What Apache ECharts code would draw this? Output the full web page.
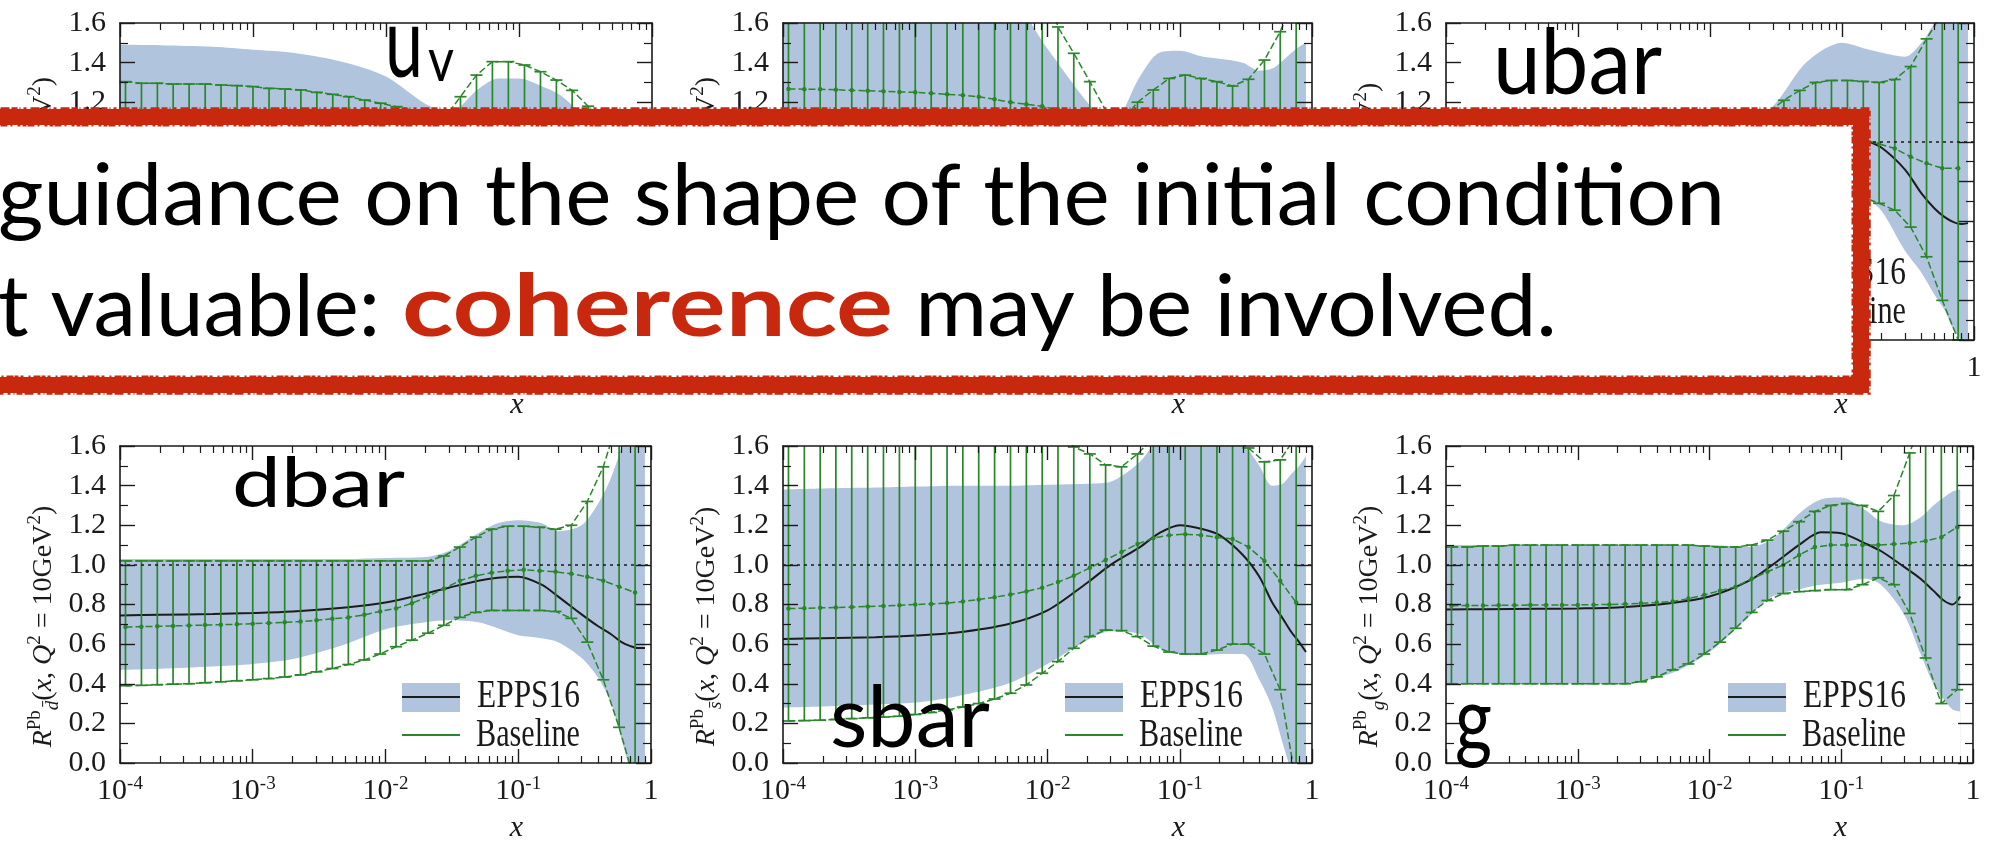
<!DOCTYPE html>
<html><head><meta charset="utf-8">
<script src="https://cdn.jsdelivr.net/npm/echarts@6/dist/echarts.min.js"></script>
<style>html,body{margin:0;padding:0;background:#fff}#c{width:1990px;height:842px}</style>
</head><body><div id="c"></div>
<script>
// ---------------- data ----------------
const xBase = [1.10e-4,1.45e-4,1.91e-4,2.51e-4,3.31e-4,4.37e-4,5.75e-4,7.59e-4,1.00e-3,1.32e-3,1.74e-3,
  2.29e-3,3.02e-3,3.98e-3,5.25e-3,6.92e-3,9.12e-3,0.0120,0.0158,0.0209,0.0275,0.0363,
  0.0479,0.0631,0.0832,0.110,0.145,0.191,0.251,0.331,0.437,0.575,0.759];
const xEpps = [1e-4,2e-4,5e-4,1e-3,2e-3,5e-3,0.01,0.02,0.03,0.05,0.07,0.1,0.15,0.2,0.3,0.4,0.5,0.6,0.7,0.8,0.9];
const xTickLabels = ['10{s|-4}','10{s|-3}','10{s|-2}','10{s|-1}','1'];
const yTickLabels = ['0.0','0.2','0.4','0.6','0.8','1.0','1.2','1.4','1.6'];
const panelNames = ['uv','dv','ubar','dbar','sbar','g'];
const yTitleSubs = ['uV','dV','ū','d̄','s̄','g'];

// u_v
const uvEppsHi  = [1.49,1.488,1.48,1.465,1.45,1.40,1.33,1.19,1.15,1.27,1.32,1.32,1.28,1.24,1.14,1.08,1.05,1.04,1.05,1.08,1.12];
const uvEppsMid = [1.02,1.02,1.02,1.02,1.02,1.03,1.04,1.06,1.07,1.09,1.1,1.1,1.08,1.05,1.0,0.95,0.9,0.87,0.86,0.87,0.9];
const uvEppsLo  = [0.55,0.56,0.57,0.6,0.65,0.72,0.8,0.9,0.95,0.95,0.92,0.9,0.88,0.86,0.84,0.8,0.75,0.7,0.67,0.65,0.65];
const uvBaseHi  = [1.304,1.296,1.296,1.292,1.292,1.292,1.287,1.284,1.279,1.27,1.267,
  1.262,1.25,1.24,1.228,1.211,1.195,1.178,1.16,1.13,1.12,1.228,
  1.337,1.405,1.405,1.388,1.354,1.312,1.26,1.18,1.1,1.03,0.98];
const uvBaseMid = [1.05,1.05,1.05,1.05,1.05,1.05,1.05,1.05,1.05,1.05,1.05,
  1.05,1.05,1.04,1.04,1.03,1.02,1.01,1.0,0.99,1.0,1.05,
  1.1,1.12,1.12,1.1,1.08,1.05,1.0,0.95,0.9,0.86,0.83];
const uvBaseLo  = [0.8,0.8,0.8,0.8,0.81,0.81,0.81,0.82,0.82,0.82,0.83,
  0.84,0.85,0.85,0.85,0.85,0.85,0.84,0.84,0.85,0.88,0.9,
  0.88,0.85,0.84,0.82,0.8,0.78,0.74,0.7,0.68,0.67,0.66];
// d_v
const dvEppsHi  = [2.0,2.0,1.98,1.95,1.88,1.75,1.47,1.2,1.08,1.33,1.45,1.46,1.43,1.42,1.4,1.36,1.37,1.41,1.45,1.48,1.5];
const dvEppsMid = [1.0,1.0,1.0,1.0,1.0,1.0,1.0,1.01,1.03,1.06,1.08,1.09,1.08,1.06,1.0,0.95,0.9,0.87,0.86,0.87,0.9];
const dvEppsLo  = [0.0,0.0,0.05,0.1,0.2,0.35,0.5,0.7,0.78,0.8,0.78,0.75,0.72,0.7,0.65,0.6,0.55,0.5,0.45,0.42,0.4];
const dvBaseHi  = [1.9,1.9,1.9,1.9,1.9,1.9,1.9,1.9,1.9,1.9,1.9,
  1.9,1.9,1.9,1.9,1.9,1.9,1.58,1.447,1.304,1.16,1.1,
  1.2,1.262,1.32,1.337,1.32,1.304,1.282,1.316,1.413,1.556,1.75];
const dvBaseMid = [1.267,1.266,1.265,1.263,1.26,1.258,1.255,1.252,1.25,1.245,1.24,
  1.235,1.228,1.215,1.2,1.19,1.18,1.16,1.14,1.12,1.1,1.06,
  1.04,1.03,1.03,1.02,1.0,0.98,0.96,0.95,0.95,0.96,0.98];
const dvBaseLo  = [0.6,0.6,0.6,0.6,0.6,0.6,0.6,0.6,0.6,0.6,0.6,
  0.6,0.61,0.62,0.63,0.65,0.67,0.7,0.72,0.74,0.75,0.75,
  0.74,0.73,0.72,0.7,0.68,0.66,0.64,0.62,0.6,0.6,0.6];
// ubar
const ubarEppsHi  = [1.1,1.1,1.1,1.1,1.1,1.1,1.1,1.12,1.18,1.38,1.46,1.5,1.47,1.45,1.43,1.5,1.6,1.7,1.85,2.0,2.1];
const ubarEppsMid = [0.97,0.97,0.97,0.97,0.97,0.975,0.98,1.0,1.02,1.05,1.065,1.06,1.01,0.97,0.86,0.74,0.665,0.62,0.595,0.585,0.59];
const ubarEppsLo  = [0.8,0.8,0.8,0.8,0.8,0.8,0.82,0.85,0.86,0.85,0.82,0.78,0.72,0.65,0.45,0.34,0.23,0.15,0.05,0.0,-0.05];
const ubarBaseHi  = [1.1,1.1,1.1,1.1,1.1,1.1,1.1,1.1,1.1,1.1,1.1,
  1.1,1.1,1.1,1.1,1.1,1.1,1.1,1.1,1.12,1.15,1.21,
  1.26,1.3,1.31,1.31,1.305,1.3,1.315,1.38,1.52,1.65,1.8];
const ubarBaseMid = [0.98,0.98,0.98,0.98,0.98,0.98,0.98,0.98,0.98,0.98,0.98,
  0.98,0.98,0.985,0.99,0.995,1.0,1.01,1.02,1.03,1.04,1.05,
  1.05,1.05,1.04,1.03,1.01,0.99,0.967,0.925,0.892,0.867,0.867];
const ubarBaseLo  = [0.8,0.8,0.8,0.8,0.8,0.8,0.8,0.8,0.8,0.8,0.8,
  0.8,0.8,0.8,0.8,0.8,0.8,0.8,0.8,0.8,0.8,0.8,
  0.79,0.78,0.77,0.75,0.72,0.69,0.655,0.57,0.42,0.2,0.0];
// dbar
const dbarEppsHi  = [1.03,1.03,1.03,1.03,1.03,1.03,1.035,1.04,1.07,1.16,1.21,1.225,1.21,1.17,1.2,1.31,1.44,1.6,1.8,1.95,2.1];
const dbarEppsMid = [0.745,0.748,0.752,0.757,0.765,0.785,0.81,0.855,0.885,0.92,0.935,0.94,0.9,0.84,0.75,0.69,0.65,0.61,0.59,0.58,0.58];
const dbarEppsLo  = [0.47,0.476,0.487,0.50,0.525,0.60,0.675,0.71,0.72,0.71,0.68,0.645,0.63,0.61,0.53,0.43,0.30,0.12,-0.05,-0.2,-0.35];
const dbarBaseHi  = [1.02,1.02,1.02,1.02,1.02,1.02,1.02,1.02,1.02,1.02,1.02,
  1.02,1.02,1.02,1.02,1.02,1.02,1.02,1.02,1.02,1.045,1.09,
  1.14,1.18,1.195,1.195,1.19,1.18,1.2,1.32,1.495,1.75,2.1];
const dbarBaseMid = [0.686,0.688,0.69,0.692,0.694,0.696,0.698,0.70,0.703,0.706,0.71,
  0.714,0.72,0.728,0.735,0.748,0.765,0.78,0.806,0.84,0.88,0.92,
  0.945,0.96,0.97,0.975,0.97,0.965,0.955,0.94,0.92,0.89,0.86];
const dbarBaseLo  = [0.39,0.392,0.395,0.398,0.40,0.405,0.41,0.415,0.42,0.426,0.434,
  0.445,0.46,0.477,0.497,0.52,0.55,0.587,0.62,0.655,0.695,0.735,
  0.76,0.77,0.77,0.77,0.77,0.765,0.73,0.61,0.42,0.18,-0.1];
// sbar
const sbarEppsHi  = [1.38,1.385,1.39,1.395,1.40,1.40,1.405,1.41,1.42,1.52,1.65,1.75,1.8,1.75,1.62,1.5,1.4,1.41,1.46,1.5,1.55];
const sbarEppsMid = [0.626,0.63,0.635,0.643,0.657,0.70,0.77,0.91,1.0,1.09,1.16,1.2,1.18,1.15,1.05,0.94,0.81,0.73,0.66,0.61,0.56];
const sbarEppsLo  = [0.28,0.285,0.295,0.305,0.335,0.40,0.50,0.62,0.665,0.65,0.58,0.55,0.545,0.55,0.55,0.42,0.28,0.1,-0.05,-0.2,-0.3];
const sbarBaseHi  = [1.8,1.8,1.8,1.8,1.8,1.8,1.8,1.8,1.8,1.8,1.8,
  1.8,1.8,1.8,1.8,1.8,1.8,1.72,1.595,1.56,1.505,1.495,
  1.56,1.64,1.72,1.78,1.78,1.72,1.64,1.59,1.52,1.53,1.65];
const sbarBaseMid = [0.78,0.781,0.783,0.785,0.787,0.79,0.793,0.796,0.80,0.803,0.807,
  0.815,0.825,0.837,0.85,0.866,0.885,0.913,0.945,0.985,1.025,1.065,
  1.105,1.135,1.15,1.155,1.15,1.14,1.13,1.09,1.02,0.92,0.81];
const sbarBaseLo  = [0.212,0.214,0.216,0.22,0.224,0.228,0.232,0.236,0.245,0.255,0.268,
  0.283,0.30,0.323,0.352,0.394,0.453,0.512,0.579,0.638,0.671,0.668,
  0.638,0.59,0.56,0.55,0.55,0.57,0.6,0.6,0.55,0.37,-0.1];
// g
const gEppsHi  = [1.1,1.1,1.1,1.1,1.1,1.1,1.1,1.09,1.13,1.27,1.33,1.34,1.28,1.22,1.2,1.24,1.3,1.34,1.37,1.38,null];
const gEppsMid = [0.775,0.776,0.778,0.78,0.785,0.806,0.84,0.92,1.0,1.11,1.165,1.16,1.11,1.07,0.99,0.93,0.87,0.82,0.8,0.84,null];
const gEppsLo  = [0.4,0.4,0.4,0.4,0.4,0.45,0.56,0.74,0.84,0.88,0.9,0.91,0.93,0.9,0.75,0.55,0.4,0.32,0.27,0.26,null];
const gBaseHi  = [1.09,1.09,1.095,1.095,1.1,1.1,1.1,1.1,1.1,1.1,1.1,
  1.1,1.1,1.1,1.1,1.1,1.095,1.09,1.09,1.1,1.125,1.17,
  1.218,1.27,1.3,1.31,1.3,1.27,1.35,1.565,1.8,2.0,2.2];
const gBaseMid = [0.794,0.795,0.795,0.796,0.796,0.797,0.797,0.798,0.798,0.799,0.80,
  0.802,0.806,0.81,0.815,0.83,0.848,0.87,0.89,0.93,0.965,1.0,
  1.05,1.09,1.1,1.1,1.1,1.1,1.105,1.11,1.12,1.14,1.19];
const gBaseLo  = [0.4,0.4,0.4,0.4,0.4,0.4,0.4,0.4,0.4,0.4,0.4,
  0.4,0.41,0.435,0.47,0.5,0.55,0.61,0.68,0.76,0.82,0.855,
  0.865,0.87,0.875,0.875,0.9,0.935,0.9,0.755,0.53,0.3,0.37];

const panels = [
  {hi:uvEppsHi, mid:uvEppsMid, lo:uvEppsLo, bHi:uvBaseHi, bMid:uvBaseMid, bLo:uvBaseLo},
  {hi:dvEppsHi, mid:dvEppsMid, lo:dvEppsLo, bHi:dvBaseHi, bMid:dvBaseMid, bLo:dvBaseLo},
  {hi:ubarEppsHi, mid:ubarEppsMid, lo:ubarEppsLo, bHi:ubarBaseHi, bMid:ubarBaseMid, bLo:ubarBaseLo},
  {hi:dbarEppsHi, mid:dbarEppsMid, lo:dbarEppsLo, bHi:dbarBaseHi, bMid:dbarBaseMid, bLo:dbarBaseLo},
  {hi:sbarEppsHi, mid:sbarEppsMid, lo:sbarEppsLo, bHi:sbarBaseHi, bMid:sbarBaseMid, bLo:sbarBaseLo},
  {hi:gEppsHi, mid:gEppsMid, lo:gEppsLo, bHi:gBaseHi, bMid:gBaseMid, bLo:gBaseLo}
];

// ---------------- layout / style ----------------
const gridPos = [
  {l:120, t:23, w:532, h:317}, {l:783, t:23, w:529, h:317}, {l:1446, t:23, w:528, h:317},
  {l:120, t:446, w:531, h:317}, {l:783, t:446, w:529, h:317}, {l:1446, t:446, w:527, h:317}
];
const BAND = '#b0c4de', GREEN = '#2a862a', BLACK = '#1c1c1c', INK = '#1a1a1a', RED = '#c8290e';
const SERIF = 'Liberation Serif';

const ctx = document.createElement('canvas').getContext('2d');
function fitText(str, x0, x1, baseline, size, opt) {
  opt = opt || {};
  const fam = opt.family || 'Lato', wt = opt.weight || 'normal', st = opt.style || 'normal';
  ctx.font = st + ' ' + wt + ' ' + size + 'px "' + fam + '"';
  const w = ctx.measureText(str).width;
  return {type:'text', x:x0, y:baseline - (opt.mid != null ? opt.mid : 0.387) * size,
    scaleX:(x1 - x0) / w, scaleY:opt.sy || 1, z:opt.z || 101, silent:true,
    style:{text:str, fontFamily:fam, fontWeight:wt, fontStyle:st, fontSize:size,
      fill:opt.color || '#000', align:'left', verticalAlign:'middle'}};
}

function xAxisCfg(i, pos, labels) {
  return {type:'log', logBase:10, gridIndex:i, position:pos, min:1e-4, max:1, z:10,
    axisLine:{show:true, onZero:false, lineStyle:{color:INK, width:1.6}},
    axisTick:{show:true, inside:true, length:14, lineStyle:{color:INK, width:1.4}},
    minorTick:{show:true, splitNumber:9, length:7, lineStyle:{color:INK, width:1.2}},
    splitLine:{show:false}, minorSplitLine:{show:false},
    axisLabel:{show:labels, margin:12, fontFamily:SERIF, fontSize:30, color:INK, lineHeight:32,
      showMinLabel:true, showMaxLabel:true,
      formatter:function (v) { return xTickLabels[Math.round(Math.log10(v)) + 4]; },
      rich:{s:{fontSize:19, fontFamily:SERIF, color:INK, verticalAlign:'top', lineHeight:20}}},
    name: labels ? 'x' : '', nameLocation:'middle', nameGap:50,
    nameTextStyle:{fontFamily:SERIF, fontStyle:'italic', fontSize:30, color:INK, padding:[0,0,0,262]}
  };
}
function yAxisCfg(i, pos, labels) {
  const sub = yTitleSubs[i];
  return {type:'value', gridIndex:i, position:pos, min:0, max:1.6, interval:0.2, z:10,
    axisLine:{show:true, onZero:false, lineStyle:{color:INK, width:1.6}},
    axisTick:{show:true, inside:true, length:15, lineStyle:{color:INK, width:1.4}},
    minorTick:{show:true, splitNumber:2, length:8, lineStyle:{color:INK, width:1.2}},
    splitLine:{show:false},
    axisLabel:{show:labels, margin:14, fontFamily:SERIF, fontSize:30, color:INK,
      formatter:function (v) { return yTickLabels[Math.round(v / 0.2)]; }},
    name: labels ? '{i|R}{sup|Pb}{sub|' + sub + '}({i|x}, {i|Q}{sup|2} = 10GeV{sup|2})' : '',
    nameLocation:'middle', nameRotate:90, nameGap:58,
    nameTextStyle:{fontFamily:SERIF, fontSize:28, color:INK, lineHeight:36, padding:[0, 44, 0, 0],
      rich:{i:{fontFamily:SERIF, fontStyle:'italic', fontSize:28, color:INK},
            sup:{fontFamily:SERIF, fontSize:19, color:INK, verticalAlign:'top', lineHeight:19},
            sub:{fontFamily:SERIF, fontSize:19, fontStyle:'italic', color:INK, verticalAlign:'bottom', lineHeight:19}}}
  };
}
function errRender(params, api) {
  const x = api.value(0), lo = api.value(1), hi = api.value(2);
  const a = api.coord([x, lo]), b = api.coord([x, hi]);
  const cs = params.coordSys;
  const top = cs.y, bot = cs.y + cs.height;
  const cy = function (v) { return Math.max(top, Math.min(bot, v)); };
  const ch = [{type:'line', shape:{x1:a[0], y1:cy(a[1]), x2:a[0], y2:cy(b[1])}, style:{stroke:GREEN, lineWidth:1.7}}];
  [a[1], b[1]].forEach(function (yy) {
    if (yy >= top - 1 && yy <= bot + 1) ch.push({type:'line', shape:{x1:a[0] - 6, y1:yy, x2:a[0] + 6, y2:yy}, style:{stroke:GREEN, lineWidth:1.7}});
  });
  return {type:'group', children:ch};
}

const option = {animation:false, backgroundColor:'#fff', grid:[], xAxis:[], yAxis:[], series:[], graphic:[]};
panels.forEach(function (p, i) {
  const g = gridPos[i];
  option.grid.push({left:g.l, top:g.t, width:g.w, height:g.h, containLabel:false, outerBoundsMode:'none'});
  option.xAxis.push(xAxisCfg(i, 'bottom', true), xAxisCfg(i, 'top', false));
  option.yAxis.push(yAxisCfg(i, 'left', true), yAxisCfg(i, 'right', false));
  const xi = 2 * i, yi = 2 * i;
  const ep = function (arr) { return xEpps.map(function (x, k) { return [x, arr[k]]; }).filter(function (d) { return d[1] !== null; }); };
  const bl = function (arr) { return xBase.map(function (x, k) { return [x, arr[k]]; }); };
  const common = {xAxisIndex:xi, yAxisIndex:yi, silent:true};
  option.series.push(Object.assign({type:'line', data:ep(p.hi), smooth:0.3, symbol:'none',
    lineStyle:{opacity:0}, areaStyle:{color:BAND, opacity:1}, z:1}, common));
  option.series.push(Object.assign({type:'line', data:ep(p.lo), smooth:0.3, symbol:'none',
    lineStyle:{opacity:0}, areaStyle:{color:'#fff', opacity:1}, z:1}, common));
  option.series.push(Object.assign({type:'line', data:ep(p.mid), smooth:0.3, symbol:'none',
    lineStyle:{color:BLACK, width:2}, z:3,
    markLine:{silent:true, symbol:'none', label:{show:false}, animation:false,
      lineStyle:{color:INK, type:[3,4], width:1.6}, data:[{yAxis:1}]}}, common));
  option.series.push(Object.assign({type:'custom', data:xBase.map(function (x, k) { return [x, p.bLo[k], p.bHi[k]]; }),
    encode:{x:0, y:[1, 2]}, renderItem:errRender, z:4}, common));
  [p.bHi, p.bLo].forEach(function (arr) {
    option.series.push(Object.assign({type:'line', data:bl(arr), symbol:'none',
      lineStyle:{color:GREEN, width:1.5, type:[7, 3]}, z:4}, common));
  });
  option.series.push(Object.assign({type:'line', data:bl(p.bMid), symbol:'circle', symbolSize:4.5,
    itemStyle:{color:GREEN}, lineStyle:{color:GREEN, width:1.5, type:[7, 3]}, z:4}, common));

  // legend (drawn as graphics relative to grid)
  const L = g.l, T = g.t;
  option.graphic.push({type:'rect', shape:{x:L + 282, y:T + 237, width:58, height:29}, style:{fill:BAND}, z:50, silent:true});
  option.graphic.push({type:'line', shape:{x1:L + 282, y1:T + 251, x2:L + 340, y2:T + 251}, style:{stroke:BLACK, lineWidth:2}, z:51, silent:true});
  option.graphic.push({type:'line', shape:{x1:L + 282, y1:T + 289, x2:L + 340, y2:T + 289}, style:{stroke:GREEN, lineWidth:2}, z:51, silent:true});
  option.graphic.push(fitText('EPPS16', L + 357, L + 460, T + 251 + 0.3375 * 31, 31, {family:SERIF, mid:0.3375, sy:1.28, z:51, color:INK}));
  option.graphic.push(fitText('Baseline', L + 356, L + 460, T + 290 + 0.3375 * 31, 31, {family:SERIF, mid:0.3375, sy:1.28, z:51, color:INK}));
});

// panel labels
option.graphic.push(fitText('u', 385, 423, 83, 98));
option.graphic.push(fitText('v', 428, 454, 85, 60));
option.graphic.push(fitText('ubar', 1493, 1662, 100, 92));
option.graphic.push(fitText('dbar', 232, 405, 512, 70));
option.graphic.push(fitText('sbar', 830, 990, 753, 86));
option.graphic.push(fitText('g', 1455, 1492, 757, 92));

// overlay box with a brush-like red border
option.graphic.push({type:'rect', shape:{x:-40, y:117, width:1901, height:268},
  style:{fill:'#fff', stroke:RED, lineWidth:16}, z:100, silent:true});
[[8.5, [6, 2, 1, 3, 3, 4, 9, 2], 2.5], [-8.5, [4, 1, 7, 3, 2, 5, 3, 2], 2]].forEach(function (r) {
  const o = r[0];
  option.graphic.push({type:'rect', shape:{x:-40 - o, y:117 - o, width:1901 + 2 * o, height:268 + 2 * o},
    style:{fill:null, stroke:RED, lineWidth:r[2], lineDash:r[1]}, z:100, silent:true});
});
option.graphic.push(fitText('guidance on the shape of the initial condition', -2, 1725, 231, 86));
option.graphic.push(fitText('t valuable: ', -2, 402, 342, 86));
option.graphic.push(fitText('coherence', 402, 893, 342, 86, {weight:'bold', color:RED}));
option.graphic.push(fitText(' may be involved.', 893, 1557, 342, 86));

const chart = echarts.init(document.getElementById('c'), null, {renderer:'canvas', width:1990, height:842});
chart.setOption(option);
</script></body></html>
